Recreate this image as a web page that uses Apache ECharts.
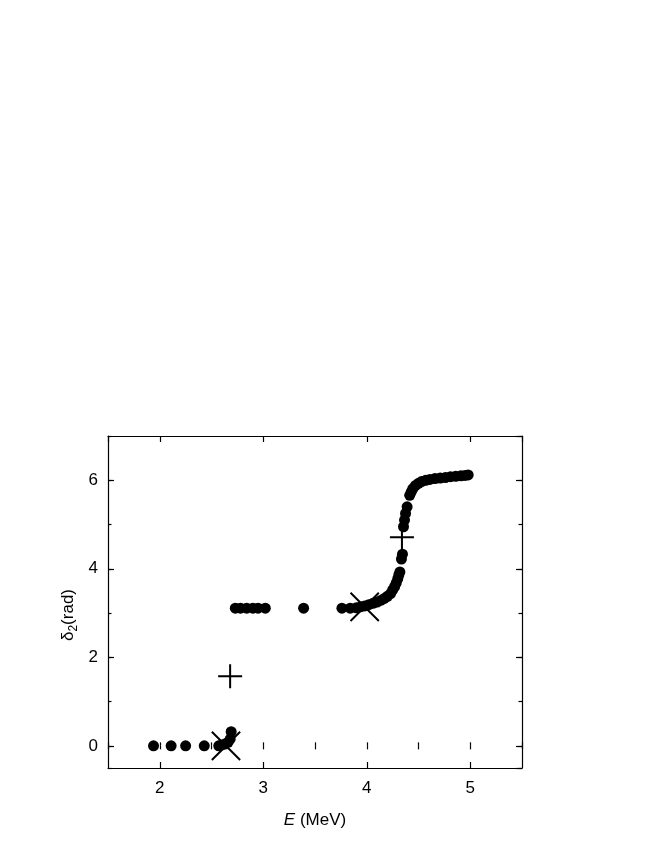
<!DOCTYPE html>
<html>
<head>
<meta charset="utf-8">
<script src="https://cdn.jsdelivr.net/npm/echarts@6/dist/echarts.min.js"></script>
<style>
  html, body { margin: 0; padding: 0; background: #fff; }
  #chart { width: 654px; height: 846px; }
</style>
</head>
<body>
<div id="chart"></div>
<script>
// phase shift delta_2 (rad) vs energy E (MeV)
const energy = [
  1.94, 2.11, 2.25, 2.43, 2.57, 2.60, 2.63, 2.66, 2.68, 2.69,
  2.73, 2.78, 2.84, 2.90, 2.95, 3.02, 3.39,
  3.76, 3.84, 3.90, 3.94, 3.98, 4.02, 4.06, 4.10, 4.14, 4.17,
  4.20, 4.23, 4.25, 4.27, 4.285, 4.30, 4.31, 4.32, 4.335, 4.345,
  4.355, 4.365, 4.375, 4.39, 4.415, 4.43, 4.445, 4.47, 4.50, 4.53,
  4.57, 4.61, 4.66, 4.71, 4.76, 4.81, 4.86, 4.91, 4.95, 4.98
];
const delta = [
  0, 0, 0, 0, 0, 0.02, 0.04, 0.08, 0.15, 0.32,
  3.11, 3.11, 3.11, 3.11, 3.11, 3.11, 3.11,
  3.11, 3.11, 3.12, 3.14, 3.16, 3.19, 3.22, 3.25, 3.29, 3.33,
  3.38, 3.44, 3.52, 3.60, 3.68, 3.78, 3.86, 3.93, 4.22, 4.33,
  4.95, 5.10, 5.25, 5.40, 5.66, 5.74, 5.81, 5.88, 5.93, 5.97,
  6.00, 6.02, 6.04, 6.05, 6.06, 6.08, 6.09, 6.10, 6.11, 6.12
];
// resonance markers
const plusE = [2.68, 4.34];
const plusDelta = [1.57, 4.71];
const crossE = [2.64, 3.98];
const crossDelta = [0, 3.14];

const xRange = [1.5, 5.5];
const yRange = [-0.5, 7];

const zip = (a, b) => a.map((v, i) => [v, b[i]]);
const FONT = 'Liberation Sans, Arial, sans-serif';

const plusPath = 'path://M-1,-12 h2 v24 h-2 z M-12,-1 h24 v2 h-24 z';
const crossPath = 'path://M-1,-20 h2 v40 h-2 z M-20,-1 h40 v2 h-40 z';

const chart = echarts.init(document.getElementById('chart'));

const lineStyle = { color: '#000', width: 1.2 };

function mainX(pos, labels) {
  return {
    type: 'value', position: pos, min: xRange[0], max: xRange[1],
    axisLine: { show: true, onZero: false, lineStyle },
    axisTick: { show: true, inside: true, length: 6, lineStyle },
    axisLabel: { show: labels, color: '#000', fontSize: 17, fontFamily: FONT, margin: 12,
      showMinLabel: false, showMaxLabel: false },
    splitLine: { show: false }
  };
}
function minorX(pos) {
  return {
    type: 'value', position: pos, min: xRange[0], max: xRange[1], interval: 0.5,
    axisLine: { show: false },
    axisTick: { show: true, inside: true, length: 3.5, lineStyle },
    axisLabel: { show: false }, splitLine: { show: false }
  };
}
function mainY(pos, labels) {
  return {
    type: 'value', position: pos, min: yRange[0], max: yRange[1],
    axisLine: { show: true, onZero: false, lineStyle },
    axisTick: { show: true, inside: true, length: 6, lineStyle },
    axisLabel: { show: labels, color: '#000', fontSize: 17, fontFamily: FONT, margin: 10,
      showMinLabel: false, showMaxLabel: false },
    splitLine: { show: false }
  };
}
function minorY(pos) {
  return {
    type: 'value', position: pos, min: yRange[0], max: yRange[1], splitNumber: 8,
    axisLine: { show: false },
    axisTick: { show: true, inside: true, length: 3.5, lineStyle },
    axisLabel: { show: false }, splitLine: { show: false }
  };
}

const xMain = mainX('bottom', true);
xMain.name = '{i|E} (MeV)';
xMain.nameLocation = 'middle';
xMain.nameGap = 44;
xMain.nameTextStyle = {
  color: '#000', fontSize: 17, fontFamily: FONT,
  rich: { i: { fontStyle: 'italic', fontSize: 17, fontFamily: FONT, color: '#000' } }
};

chart.setOption({
  animation: false,
  backgroundColor: '#fff',
  grid: { left: 108, top: 436, width: 414, height: 332, containLabel: false },
  xAxis: [xMain, mainX('top', false), minorX('bottom'), minorX('top')],
  yAxis: [mainY('left', true), mainY('right', false), minorY('left'), minorY('right')],
  graphic: [{
    type: 'text', x: 68, y: 615, rotation: Math.PI / 2,
    style: {
      text: '{d|δ}{s|2}{d|(rad)}',
      align: 'center', verticalAlign: 'middle',
      rich: {
        d: { fontSize: 17, fontFamily: FONT, fill: '#000', lineHeight: 24, verticalAlign: 'middle' },
        s: { fontSize: 12, fontFamily: FONT, fill: '#000', lineHeight: 24, verticalAlign: 'bottom' }
      }
    }
  }],
  series: [
    {
      type: 'scatter', data: zip(energy, delta),
      symbol: 'circle', symbolSize: 11,
      itemStyle: { color: '#000', opacity: 1 }
    },
    {
      type: 'scatter', data: zip(plusE, plusDelta),
      symbol: plusPath, symbolSize: 24,
      itemStyle: { color: '#000', opacity: 1 }
    },
    {
      type: 'scatter', data: zip(crossE, crossDelta),
      symbol: crossPath, symbolSize: 40, symbolRotate: 45,
      itemStyle: { color: '#000', opacity: 1 }
    }
  ]
});
</script>
</body>
</html>
